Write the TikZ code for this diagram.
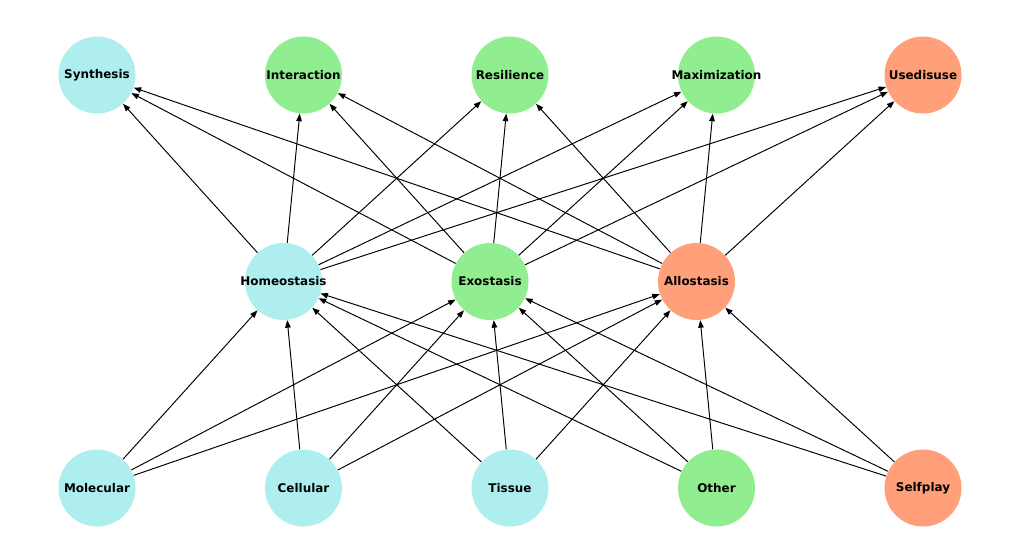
\documentclass[tikz,border=0pt]{standalone}
\usepackage{fontspec}
\setsansfont{DejaVu Sans}
\usepackage{xcolor}
\usepackage{tikz}
\usetikzlibrary{arrows.meta, positioning}

\definecolor{paleturq}{HTML}{AFEEEE}
\definecolor{lightgrn}{HTML}{90EE90}
\definecolor{lightsalm}{HTML}{FFA07A}

\begin{document}
\begin{tikzpicture}[
  on grid, node distance=4.13cm and 4.13cm,
  levelnode/.style={circle, minimum size=1.54cm, inner sep=0pt},
  every label/.style={font=\sffamily\bfseries\fontsize{6.8}{8}\selectfont, inner sep=0pt},
  arr/.style={-{Triangle[length=1.5mm, width=1.1mm]}, line width=0.55pt}
]
\useasboundingbox (-1.94,1.5) rectangle (18.44,-9.34);

\node[levelnode, fill=paleturq, label=center:Synthesis] (syn) at (0,0) {};
\node[levelnode, fill=lightgrn, right=of syn, label=center:Interaction] (inter) {};
\node[levelnode, fill=lightgrn, right=of inter, label=center:Resilience] (resil) {};
\node[levelnode, fill=lightgrn, right=of resil, label=center:Maximization] (maxim) {};
\node[levelnode, fill=lightsalm, right=of maxim, label=center:Usedisuse] (usedis) {};

\node[levelnode, fill=paleturq, below=of inter, xshift=-0.4cm, label=center:Homeostasis] (homeo) {};
\node[levelnode, fill=lightgrn, right=of homeo, label=center:Exostasis] (exo) {};
\node[levelnode, fill=lightsalm, right=of exo, label=center:Allostasis] (allo) {};

\node[levelnode, fill=paleturq, below=8.26cm of syn, label=center:Molecular] (mol) {};
\node[levelnode, fill=paleturq, right=of mol, label=center:Cellular] (cell) {};
\node[levelnode, fill=paleturq, right=of cell, label=center:Tissue] (tiss) {};
\node[levelnode, fill=lightgrn, right=of tiss, label=center:Other] (other) {};
\node[levelnode, fill=lightsalm, right=of other, label=center:Selfplay] (self) {};

\draw[arr] (mol) -- (homeo);
\draw[arr] (mol) -- (exo);
\draw[arr] (mol) -- (allo);
\draw[arr] (cell) -- (homeo);
\draw[arr] (cell) -- (exo);
\draw[arr] (cell) -- (allo);
\draw[arr] (tiss) -- (homeo);
\draw[arr] (tiss) -- (exo);
\draw[arr] (tiss) -- (allo);
\draw[arr] (other) -- (homeo);
\draw[arr] (other) -- (exo);
\draw[arr] (other) -- (allo);
\draw[arr] (self) -- (homeo);
\draw[arr] (self) -- (exo);
\draw[arr] (self) -- (allo);

\draw[arr] (homeo) -- (syn);
\draw[arr] (homeo) -- (inter);
\draw[arr] (homeo) -- (resil);
\draw[arr] (homeo) -- (maxim);
\draw[arr] (homeo) -- (usedis);
\draw[arr] (exo) -- (syn);
\draw[arr] (exo) -- (inter);
\draw[arr] (exo) -- (resil);
\draw[arr] (exo) -- (maxim);
\draw[arr] (exo) -- (usedis);
\draw[arr] (allo) -- (syn);
\draw[arr] (allo) -- (inter);
\draw[arr] (allo) -- (resil);
\draw[arr] (allo) -- (maxim);
\draw[arr] (allo) -- (usedis);
\end{tikzpicture}
\end{document}
